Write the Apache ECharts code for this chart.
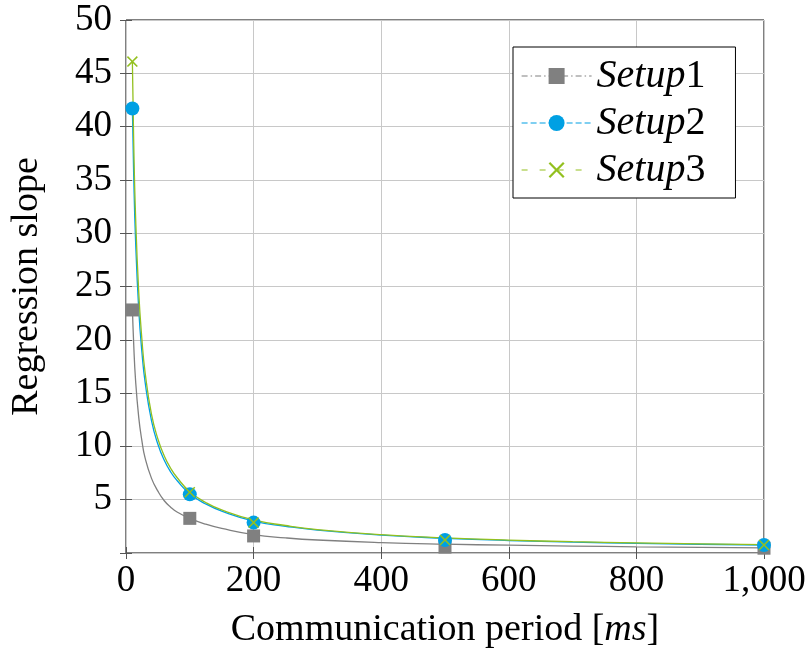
<!DOCTYPE html>
<html>
<head>
<meta charset="utf-8">
<script src="https://cdn.jsdelivr.net/npm/echarts@6/dist/echarts.min.js"></script>
<style>
  html, body { margin: 0; padding: 0; background: #fff; }
  #chart { width: 809px; height: 664px; }
</style>
</head>
<body>
<div id="chart"></div>
<script>
// Measured points (communication period in ms)
var periods = [10, 100, 200, 500, 1000];
var setup1 = [22.8, 3.25, 1.6, 0.55, 0.45];
var setup2 = [41.7, 5.5, 2.85, 1.22, 0.75];
var setup3 = [46.1, 5.7, 2.85, 1.22, 0.75];

// Fitted trend curves, sampled along the period axis
var fitX = [10, 12, 15, 20, 25, 30, 40, 50, 60, 70, 80, 100, 125, 150, 200, 250, 300, 400, 500, 600, 700, 800, 900, 1000];
var fit1 = [23.0, 19.7, 16.2, 12.7, 10.5, 8.9, 7.0, 5.8, 4.9, 4.3, 3.85, 3.25, 2.7, 2.3, 1.72, 1.42, 1.22, 0.98, 0.83, 0.73, 0.65, 0.58, 0.53, 0.49];
var fit2 = [41.7, 35.6, 29.3, 22.8, 18.8, 16.0, 12.4, 10.2, 8.7, 7.6, 6.8, 5.55, 4.6, 3.93, 3.0, 2.51, 2.14, 1.67, 1.38, 1.17, 1.02, 0.91, 0.82, 0.75];
var fit3 = [46.1, 38.8, 31.6, 24.4, 20.0, 16.9, 13.0, 10.7, 9.1, 7.95, 7.08, 5.75, 4.74, 4.04, 3.1, 2.58, 2.2, 1.72, 1.42, 1.21, 1.06, 0.95, 0.86, 0.79];

var xTicks = { min: 0, max: 1000, interval: 200 };
var yTicks = { min: 0, max: 50, interval: 5 };

var GREY = '#808080', BLUE = '#00a0e3', GREEN = '#93c01f';
var FONT = 'Liberation Serif';

function pairs(xs, ys) {
  return xs.map(function (x, i) { return [x, ys[i]]; });
}

var crossPath = 'path://M0,1L1,0L5,4L9,0L10,1L6,5L10,9L9,10L5,6L1,10L0,9L4,5Z';

function fitSeries(data, color) {
  return {
    type: 'line', data: data, smooth: 0.5,
    showSymbol: false, symbol: 'none', silent: true,
    lineStyle: { color: color, width: 1.3 }
  };
}
function markSeries(name, data, color, symbol, size) {
  return {
    name: name, type: 'line', data: data, symbol: symbol, symbolSize: size,
    showAllSymbol: true,
    itemStyle: { color: color },
    lineStyle: { color: color, width: 0 }
  };
}

var tickStyle = { show: true, inside: true, length: 6, lineStyle: { color: '#555', width: 1 } };
var gridLine = { show: true, lineStyle: { color: '#c8c8c8', width: 1 } };

var chart = echarts.init(document.getElementById('chart'), null, { renderer: 'canvas' });
chart.setOption({
  animation: false,
  backgroundColor: '#fff',
  grid: { left: 126, right: 45, top: 20, bottom: 111, show: true, borderColor: '#000', borderWidth: 1, backgroundColor: 'transparent' },
  legend: {
    orient: 'vertical', left: 513, top: 47,
    backgroundColor: '#fff', borderColor: '#000', borderWidth: 1,
    padding: [9, 30, 8, 8], itemGap: 7, itemWidth: 70, itemHeight: 20, itemTextGap: 9,
    textStyle: {
      fontFamily: FONT, fontSize: 40, color: '#000', lineHeight: 38,
      rich: {
        it: { fontFamily: FONT, fontStyle: 'italic', fontSize: 40, color: '#000', lineHeight: 38 },
        n: { fontFamily: FONT, fontSize: 40, color: '#000', lineHeight: 38 }
      }
    },
    formatter: function (name) {
      return '{it|' + name.replace(/\d+$/, '') + '}{n|' + name.match(/\d+$/)[0] + '}';
    },
    data: [
      { name: 'Setup1', lineStyle: { width: 1.2, type: [6, 3, 1.5, 3], opacity: 1 } },
      { name: 'Setup2', lineStyle: { width: 1.2, type: [6, 3], opacity: 1 } },
      { name: 'Setup3', lineStyle: { width: 1.2, type: [6, 12], opacity: 1 } }
    ]
  },
  xAxis: [{
    type: 'value', min: xTicks.min, max: xTicks.max, interval: xTicks.interval,
    axisLine: { show: false }, axisTick: tickStyle, splitLine: gridLine,
    axisLabel: {
      fontFamily: FONT, fontSize: 37, color: '#000', margin: 10,
      formatter: function (v) { return v >= 1000 ? (Math.floor(v / 1000) + ',' + String(v % 1000).padStart(3, '0')) : String(v); }
    },
    name: '{r|Communication period [}{i|ms}{r|]}',
    nameLocation: 'middle', nameGap: 58,
    nameTextStyle: {
      fontFamily: FONT, fontSize: 38, color: '#000',
      rich: {
        r: { fontFamily: FONT, fontSize: 38, color: '#000' },
        i: { fontFamily: FONT, fontSize: 38, fontStyle: 'italic', color: '#000' }
      }
    }
  }, {
    type: 'value', position: 'top', min: xTicks.min, max: xTicks.max, interval: xTicks.interval,
    axisLine: { show: false }, axisTick: tickStyle, splitLine: { show: false }, axisLabel: { show: false }
  }],
  yAxis: [{
    type: 'value', min: yTicks.min, max: yTicks.max, interval: yTicks.interval,
    axisLine: { show: false }, axisTick: tickStyle, splitLine: gridLine,
    axisLabel: {
      fontFamily: FONT, fontSize: 37, color: '#000', margin: 14,
      formatter: function (v) { return v === 0 ? '' : String(v); }
    },
    name: 'Regression slope', nameLocation: 'middle', nameGap: 80, nameRotate: 90,
    nameTextStyle: { fontFamily: FONT, fontSize: 38, color: '#000' }
  }, {
    type: 'value', position: 'right', min: yTicks.min, max: yTicks.max, interval: yTicks.interval,
    axisLine: { show: false }, axisTick: tickStyle, splitLine: { show: false }, axisLabel: { show: false }
  }],
  series: [
    fitSeries(pairs(fitX, fit1), GREY),
    markSeries('Setup1', pairs(periods, setup1), GREY, 'rect', 13),
    fitSeries(pairs(fitX, fit2), BLUE),
    markSeries('Setup2', pairs(periods, setup2), BLUE, 'circle', 14),
    fitSeries(pairs(fitX, fit3), GREEN),
    markSeries('Setup3', pairs(periods, setup3), GREEN, crossPath, 11)
  ]
});
</script>
</body>
</html>
